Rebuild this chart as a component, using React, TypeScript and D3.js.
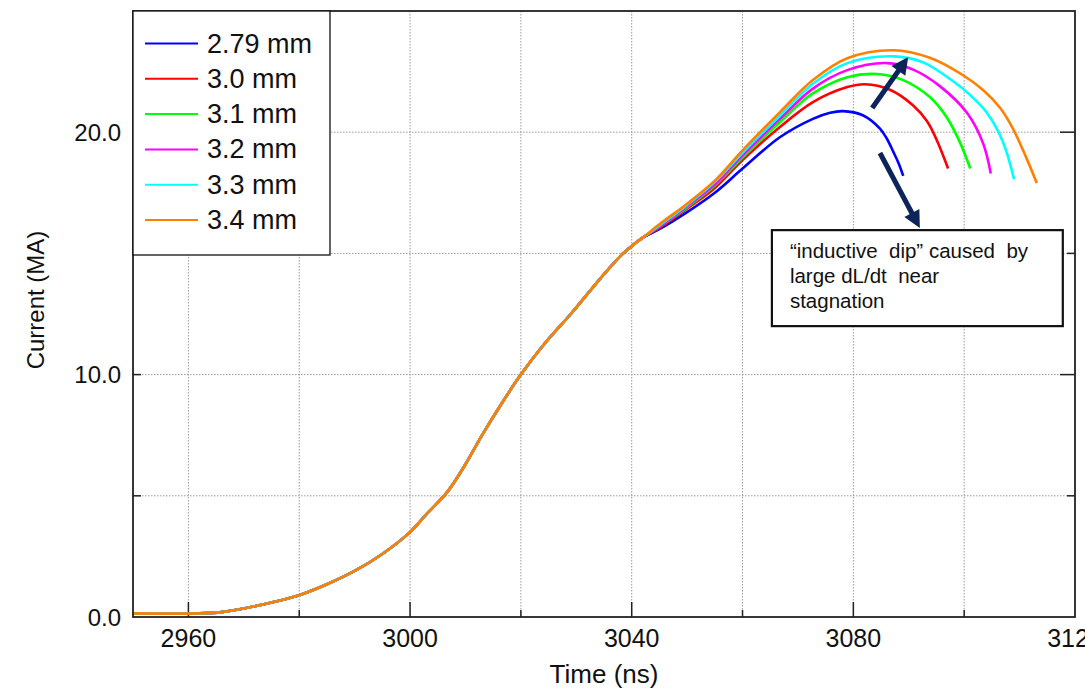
import React from "react";
import * as d3 from "d3";

// ---- Data ----
const baseTime = [2950, 2962, 2966, 2970, 2975, 2980, 2985, 2990, 2995, 3000, 3003, 3006.7, 3010, 3013, 3016.5, 3020, 3024, 3029, 3033, 3036, 3038, 3040, 3042];
const baseCurrent = [0.15, 0.15, 0.2, 0.35, 0.6, 0.9, 1.35, 1.9, 2.6, 3.5, 4.25, 5.15, 6.3, 7.5, 8.8, 10.0, 11.2, 12.5, 13.6, 14.4, 14.9, 15.3, 15.65];

const labels = ["2.79 mm", "3.0 mm", "3.1 mm", "3.2 mm", "3.3 mm", "3.4 mm"];
const colors = ["#0000ff", "#ff0000", "#00ff00", "#ff00ff", "#00ffff", "#ff8000"];

const tailTime279 = [3045, 3050, 3055, 3060, 3066.8, 3072.7, 3075.8, 3078.1, 3081.7, 3084.8, 3086, 3087.2, 3088.2, 3089];
const tailCurrent279 = [16.0, 16.7, 17.5, 18.5, 19.8, 20.55, 20.8, 20.87, 20.7, 20.15, 19.75, 19.2, 18.7, 18.2];
const tailTime30 = [3045, 3050, 3055, 3060, 3066.8, 3072.7, 3078.9, 3082.1, 3086.6, 3090.8, 3093.3, 3095.1, 3097.1];
const tailCurrent30 = [16.05, 16.85, 17.7, 18.85, 20.22, 21.24, 21.86, 21.98, 21.75, 21.1, 20.45, 19.65, 18.5];
const tailTime31 = [3045, 3050, 3055, 3060, 3066.8, 3072.7, 3078.9, 3084.3, 3089, 3093.8, 3096.9, 3099.2, 3101.1];
const tailCurrent31 = [16.1, 16.9, 17.8, 18.95, 20.43, 21.6, 22.27, 22.4, 22.15, 21.45, 20.6, 19.6, 18.5];
const tailTime32 = [3045, 3050, 3055, 3060, 3066.8, 3072.7, 3078.9, 3086.1, 3090.8, 3095.6, 3100.5, 3103.4, 3104.8];
const tailCurrent32 = [16.1, 16.95, 17.85, 19.05, 20.56, 21.8, 22.56, 22.85, 22.58, 21.9, 20.8, 19.55, 18.3];
const tailTime33 = [3045, 3050, 3055, 3060, 3066.8, 3072.7, 3078.9, 3087.2, 3092.6, 3098.0, 3101.0, 3104.1, 3107, 3109];
const tailCurrent33 = [16.15, 17.0, 17.95, 19.15, 20.7, 22.0, 22.85, 23.13, 22.88, 22.1, 21.55, 20.8, 19.6, 18.06];
const tailTime34 = [3045, 3050, 3055, 3060, 3066.8, 3072.7, 3078.9, 3087.2, 3093.8, 3099.8, 3103.5, 3106.5, 3108.8, 3111.3, 3113.1];
const tailCurrent34 = [16.2, 17.05, 18.0, 19.25, 20.84, 22.15, 23.05, 23.38, 23.07, 22.35, 21.72, 21.0, 20.15, 18.9, 17.9];

const tailTimes = [tailTime279, tailTime30, tailTime31, tailTime32, tailTime33, tailTime34];
const tailCurrents = [tailCurrent279, tailCurrent30, tailCurrent31, tailCurrent32, tailCurrent33, tailCurrent34];

const xGridTicks = [2960, 2980, 3000, 3020, 3040, 3060, 3080, 3100, 3120];
const xLabelTicks = [2960, 3000, 3040, 3080, 3120];
const yGridTicks = [5, 10, 15, 20];
const yLabelTicks = [0, 10, 20];

const annotationLines = ["\u201cinductive  dip\u201d caused  by", "large dL/dt  near", "stagnation"];

// annotation anchor points in data units
const arrowUp = { t0: 3083.4, i0: 21.0, t1: 3089.9, i1: 23.1 };
const arrowDown = { t0: 3084.8, i0: 19.14, t1: 3092.0, i1: 16.05 };
const noteBox = { t0: 3065.3, i0: 15.96, t1: 3117.8, i1: 12.0 };

const W = 1085, H = 690;
const L = 133, R = 1075, T = 11, B = 617;
const FONT = "'Liberation Sans', Arial, sans-serif";
const NAVY = "#0c2459";

function Arrow({ x0, y0, x1, y1 }: { x0: number; y0: number; x1: number; y1: number }) {
  const dx = x1 - x0, dy = y1 - y0;
  const len = Math.hypot(dx, dy);
  const ux = dx / len, uy = dy / len;
  const hl = 17, hw = 8.5;
  const bx = x1 - ux * hl, by = y1 - uy * hl;
  const px = -uy, py = ux;
  return (
    <g>
      <line x1={x0} y1={y0} x2={bx + ux * 2} y2={by + uy * 2} stroke={NAVY} strokeWidth={5} />
      <polygon
        points={`${x1},${y1} ${bx + px * hw},${by + py * hw} ${bx - px * hw},${by - py * hw}`}
        fill={NAVY}
      />
    </g>
  );
}

export default function App() {
  const x = d3.scaleLinear().domain([2950, 3120]).range([L, R]);
  const y = d3.scaleLinear().domain([0, 25]).range([B, T]);

  const line = d3
    .line<[number, number]>()
    .x((d) => x(d[0]))
    .y((d) => y(d[1]))
    .curve(d3.curveCatmullRom.alpha(0.5));

  const series = labels.map((lab, k) => {
    const pts: [number, number][] = baseTime.map((t, i) => [t, baseCurrent[i]]);
    tailTimes[k].forEach((t, i) => pts.push([t, tailCurrents[k][i]]));
    return { lab, color: colors[k], pts };
  });

  const legendRowY = (k: number) => 43.5 + k * 35.3;

  return (
    <svg
      width={W}
      height={H}
      style={{ position: "absolute", left: 0, top: 0, background: "#fff" }}
      fontFamily={FONT}
    >
      <defs>
        <clipPath id="plot">
          <rect x={L} y={T} width={R - L} height={B - T} />
        </clipPath>
      </defs>
      <rect x={0} y={0} width={W} height={H} fill="#fff" />

      {/* grid */}
      {xGridTicks.filter((t) => t < 3120).map((t) => (
        <line key={"gx" + t} x1={x(t)} x2={x(t)} y1={T} y2={B} stroke="#9a9a9a" strokeWidth={1} strokeDasharray="1.5,1.5" />
      ))}
      {yGridTicks.map((v) => (
        <line key={"gy" + v} x1={L} x2={R} y1={y(v)} y2={y(v)} stroke="#9a9a9a" strokeWidth={1} strokeDasharray="1.5,1.5" />
      ))}

      {/* ticks */}
      {xGridTicks.filter((t) => t < 3120).map((t) => {
        const major = xLabelTicks.includes(t);
        return <line key={"tx" + t} x1={x(t)} x2={x(t)} y1={B} y2={B - (major ? 15 : 7)} stroke="#222" strokeWidth={1.5} />;
      })}
      {yGridTicks.map((v) => (
        <g key={"ty" + v}>
          <line x1={L} x2={L + 8} y1={y(v)} y2={y(v)} stroke="#222" strokeWidth={1.5} />
          <line x1={R} x2={R - (v % 10 === 0 ? 15 : 8)} y1={y(v)} y2={y(v)} stroke="#222" strokeWidth={1.5} />
        </g>
      ))}

      {/* curves */}
      <g clipPath="url(#plot)">
        {series.map((s) => (
          <path key={s.lab} d={line(s.pts) || ""} fill="none" stroke={s.color} strokeWidth={2.6} strokeLinejoin="round" />
        ))}
      </g>

      {/* frame */}
      <rect x={L} y={T} width={R - L} height={B - T} fill="none" stroke="#222" strokeWidth={1.8} />

      {/* tick labels */}
      {xLabelTicks.map((t) => (
        <text key={"lx" + t} x={x(t)} y={647} textAnchor="middle" fontSize={25} fill="#111">
          {t}
        </text>
      ))}
      {yLabelTicks.map((v) => (
        <text key={"ly" + v} x={121} y={y(v)} textAnchor="end" dominantBaseline="central" fontSize={24} fill="#111">
          {v.toFixed(1)}
        </text>
      ))}

      {/* axis titles */}
      <text x={604} y={683} textAnchor="middle" fontSize={26} fill="#111">Time (ns)</text>
      <text
        transform={`translate(35,${300}) rotate(-90)`}
        textAnchor="middle"
        dominantBaseline="central"
        fontSize={24}
        fill="#111"
      >
        Current (MA)
      </text>

      {/* legend */}
      <rect x={L} y={T} width={197} height={244} fill="#fff" stroke="#111" strokeWidth={1.3} />
      {series.map((s, k) => (
        <g key={"lg" + k}>
          <line x1={145} x2={198} y1={legendRowY(k)} y2={legendRowY(k)} stroke={s.color} strokeWidth={2} />
          <text x={207} y={legendRowY(k)} dominantBaseline="central" fontSize={27} fill="#111">
            {s.lab}
          </text>
        </g>
      ))}

      {/* arrows */}
      <Arrow x0={x(arrowUp.t0)} y0={y(arrowUp.i0)} x1={x(arrowUp.t1)} y1={y(arrowUp.i1)} />
      <Arrow x0={x(arrowDown.t0)} y0={y(arrowDown.i0)} x1={x(arrowDown.t1)} y1={y(arrowDown.i1)} />

      {/* annotation box */}
      <rect
        x={x(noteBox.t0)}
        y={y(noteBox.i0)}
        width={x(noteBox.t1) - x(noteBox.t0)}
        height={y(noteBox.i1) - y(noteBox.i0)}
        fill="#fff"
        stroke="#111"
        strokeWidth={2.2}
      />
      {annotationLines.map((ln, i) => (
        <text key={"an" + i} x={x(noteBox.t0) + 18} y={y(noteBox.i0) + 28 + i * 25} fontSize={20.5} fill="#111" style={{ whiteSpace: "pre" }}>
          {ln}
        </text>
      ))}
    </svg>
  );
}
